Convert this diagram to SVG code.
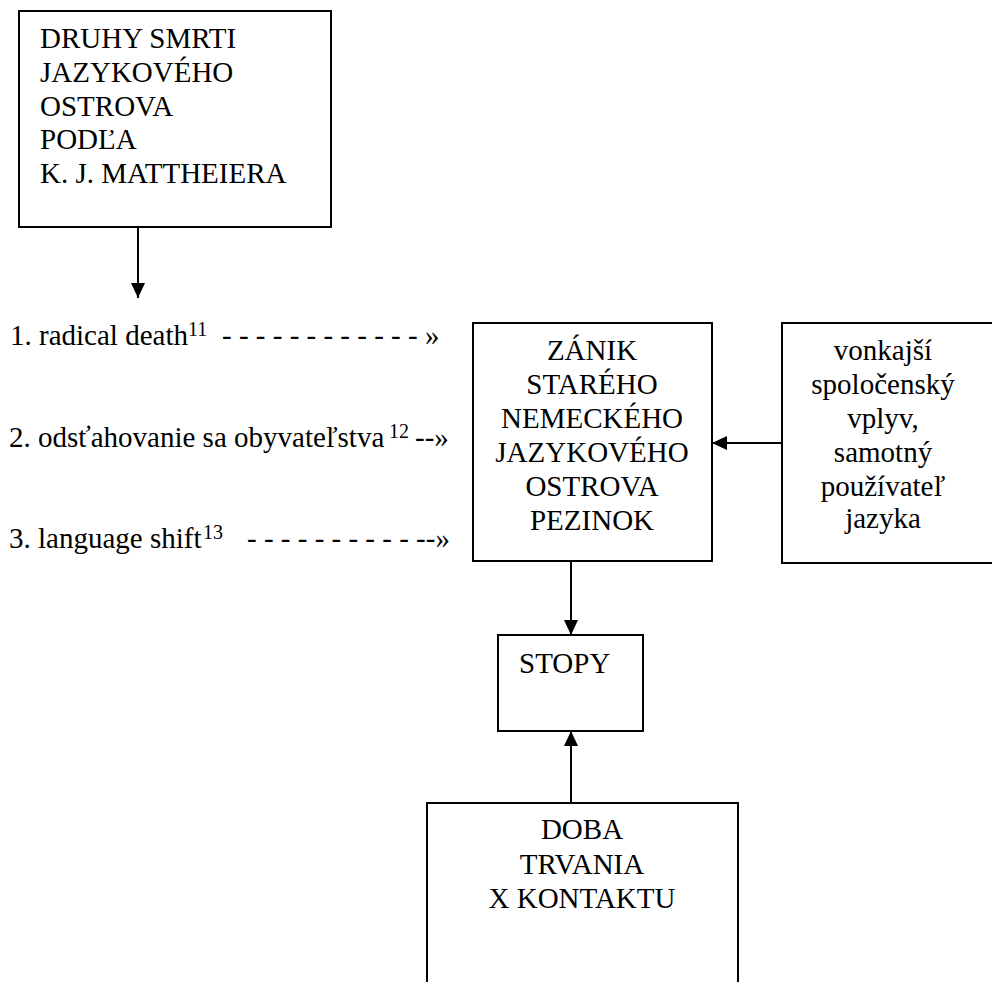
<svg xmlns="http://www.w3.org/2000/svg" width="992" height="982" viewBox="0 0 992 982">
<style>
.box{fill:#fff;stroke:#000;stroke-width:2}
text{font-family:"Liberation Serif","Times New Roman",Times,"DejaVu Serif",serif;font-size:29px;fill:#000}
.c{text-anchor:middle}
text.sup{font-size:20px}
.conn{stroke:#000;stroke-width:2;fill:none}
</style>
<defs>
<marker id="ah" markerUnits="userSpaceOnUse" markerWidth="16" markerHeight="16" viewBox="0 0 16 16" refX="15" refY="8" orient="auto">
<path d="M0,1 L15,8 L0,15 Z" fill="#000"/>
</marker>
</defs>
<rect width="992" height="982" fill="#fff"/>
<g id="druhy">
<rect class="box" x="19" y="11" width="312" height="216"/>
<text x="40" y="48">DRUHY  SMRTI</text>
<text x="40" y="82">JAZYKOVÉHO</text>
<text x="40" y="116">OSTROVA</text>
<text x="40" y="149">PODĽA</text>
<text x="40" y="183">K. J. MATTHEIERA</text>
</g>
<g id="list">
<text x="10" y="345">1. radical death</text>
<text class="sup" x="188" y="336">11</text>
<text x="222" y="345">- - - - - - - - - - - - »</text>
<text x="9" y="447">2. odsťahovanie sa obyvateľstva</text>
<text class="sup" x="389" y="438">12</text>
<text x="415" y="447">--»</text>
<text x="9" y="548">3. language shift</text>
<text class="sup" x="203" y="539">13</text>
<text x="247" y="548">- - - - - - - - - - --»</text>
</g>
<g id="zanik">
<rect class="box" x="473" y="323" width="239" height="238"/>
<text class="c" x="592" y="360">ZÁNIK</text>
<text class="c" x="592" y="394">STARÉHO</text>
<text class="c" x="592" y="428">NEMECKÉHO</text>
<text class="c" x="592" y="462">JAZYKOVÉHO</text>
<text class="c" x="592" y="496">OSTROVA</text>
<text class="c" x="592" y="530">PEZINOK</text>
</g>
<g id="vonkajsi">
<rect class="box" x="782" y="323" width="220" height="240"/>
<text class="c" x="883" y="360">vonkajší</text>
<text class="c" x="883" y="394">spoločenský</text>
<text class="c" x="883" y="428">vplyv,</text>
<text class="c" x="883" y="462">samotný</text>
<text class="c" x="883" y="496">používateľ</text>
<text class="c" x="883" y="528">jazyka</text>
</g>
<g id="stopy">
<rect class="box" x="498" y="635" width="145" height="96"/>
<text x="519" y="673">STOPY</text>
</g>
<g id="doba">
<path class="box" d="M427,992 L427,803 L738,803 L738,992"/>
<text class="c" x="582" y="839">DOBA</text>
<text class="c" x="582" y="874">TRVANIA</text>
<text class="c" x="582" y="908">X KONTAKTU</text>
</g>
<g id="connectors">
<line class="conn" x1="138" y1="227" x2="138" y2="298" marker-end="url(#ah)"/>
<line class="conn" x1="782" y1="443" x2="712" y2="443" marker-end="url(#ah)"/>
<line class="conn" x1="571" y1="561" x2="571" y2="635" marker-end="url(#ah)"/>
<line class="conn" x1="571" y1="803" x2="571" y2="731" marker-end="url(#ah)"/>
</g>
</svg>
